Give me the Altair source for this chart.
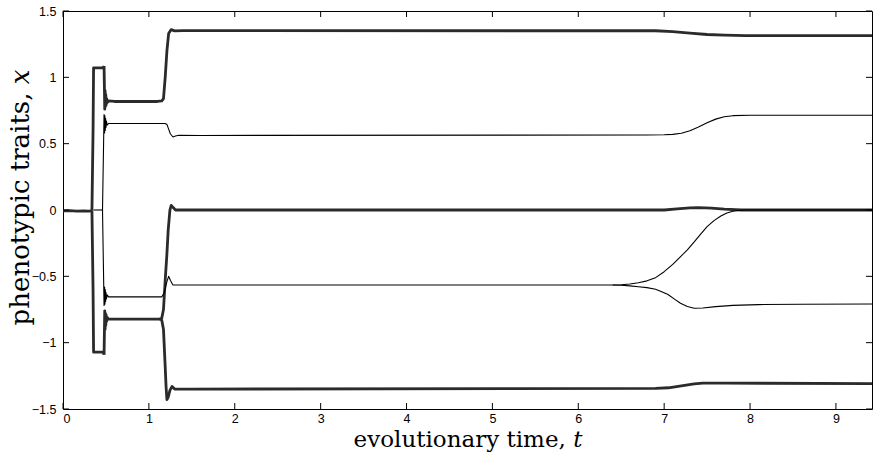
import altair as alt
import pandas as pd

# ---- data: (t, x) polylines for each branch ----
trunk_t = [0.0, 0.08, 0.16, 0.24, 0.30, 0.337]
trunk_x = [-0.006, -0.004, -0.008, -0.006, -0.008, -0.006]

upleft_t = [0.337, 0.350, 0.356, 0.47, 0.478]
upleft_x = [-0.006, 0.60, 1.072, 1.072, 1.085]

dnleft_t = [0.337, 0.350, 0.356, 0.47, 0.478]
dnleft_x = [-0.006, -0.60, -1.072, -1.072, -1.09]

mid0_t = [0.356, 0.46]
mid0_x = [0.0, 0.0]

# upper outer branch: 1.08 -> 0.82 -> 1.35 -> 1.315
uo_t = [0.478, 0.482, 0.486, 0.490, 0.494, 0.498, 0.502, 0.508, 0.515, 0.53, 0.60, 1.10, 1.15, 1.17,
        1.19, 1.21, 1.23, 1.26, 1.30, 1.40, 6.9, 7.1, 7.3, 7.5, 7.7, 7.95, 9.42]
uo_x = [1.085, 0.93, 0.76, 0.90, 0.78, 0.87, 0.79, 0.84, 0.81, 0.822, 0.818, 0.818, 0.822, 0.84,
        1.00, 1.20, 1.33, 1.36, 1.35, 1.352, 1.351, 1.345, 1.333, 1.323, 1.318, 1.315, 1.315]

# upper inner branch: 0.65 -> 0.56 -> 0.71
ui_t = [0.46, 0.470, 0.478, 0.484, 0.488, 0.492, 0.496, 0.500, 0.506, 0.514, 0.53, 0.60, 1.19, 1.21,
        1.23, 1.25, 1.28, 1.31, 1.35, 1.6, 6.8, 7.0, 7.1, 7.2, 7.3, 7.4, 7.5, 7.6, 7.7, 7.8, 8.0, 8.3, 9.42]
ui_x = [0.0, 0.40, 0.72, 0.58, 0.71, 0.60, 0.69, 0.62, 0.67, 0.64, 0.652, 0.652, 0.652, 0.645,
        0.61, 0.575, 0.55, 0.558, 0.564, 0.562, 0.565, 0.567, 0.570, 0.578, 0.598, 0.625, 0.657, 0.685,
        0.703, 0.711, 0.714, 0.714, 0.714]

# lower outer branch: -1.08 -> -0.82 (splits at t~1.13)
lo_t = [0.478, 0.482, 0.486, 0.490, 0.494, 0.498, 0.502, 0.508, 0.515, 0.53, 0.60, 1.13]
lo_x = [-1.09, -0.93, -0.76, -0.90, -0.78, -0.87, -0.79, -0.84, -0.81, -0.822, -0.822, -0.822]

# from -0.82 up to 0
lz_t = [1.13, 1.15, 1.17, 1.19, 1.21, 1.225, 1.245, 1.26, 1.28, 1.31, 1.5, 7.0, 7.15, 7.3, 7.4, 7.55, 7.7, 7.9, 9.42]
lz_x = [-0.822, -0.815, -0.75, -0.53, -0.33, -0.15, 0.0, 0.035, 0.02, 0.0, 0.0, 0.0, 0.008, 0.016, 0.018, 0.014, 0.006, 0.0, 0.0]

# from -0.82 down to -1.35
lb_t = [1.13, 1.15, 1.17, 1.19, 1.20, 1.21, 1.225, 1.245, 1.27, 1.30, 1.5, 6.9, 7.05, 7.2, 7.35, 7.45, 7.7, 9.42]
lb_x = [-0.822, -0.83, -0.90, -1.18, -1.33, -1.43, -1.41, -1.36, -1.33, -1.35, -1.35, -1.345, -1.34, -1.325, -1.31, -1.305, -1.305, -1.308]

# lower inner branch: -0.65 -> -0.56 -> 0
li_t = [0.46, 0.470, 0.478, 0.484, 0.488, 0.492, 0.496, 0.500, 0.506, 0.514, 0.53, 0.60, 1.15, 1.18,
        1.21, 1.23, 1.25, 1.28, 1.35, 6.4, 6.5, 6.6, 6.7, 6.8, 6.9, 7.0, 7.1, 7.2, 7.27, 7.35, 7.42,
        7.5, 7.58, 7.66, 7.73, 7.8, 7.88, 8.0, 9.42]
li_x = [0.0, -0.40, -0.72, -0.58, -0.71, -0.60, -0.69, -0.62, -0.67, -0.64, -0.655, -0.655, -0.655, -0.62,
        -0.54, -0.50, -0.53, -0.565, -0.565, -0.565, -0.563, -0.558, -0.548, -0.534, -0.51, -0.465, -0.41,
        -0.345, -0.30, -0.24, -0.185, -0.125, -0.08, -0.045, -0.022, -0.009, -0.002, 0.0, 0.0]

# lower inner second branch: -0.56 -> -0.71
lm_t = [6.4, 6.5, 6.6, 6.7, 6.8, 6.9, 6.95, 7.04, 7.12, 7.19, 7.27, 7.35, 7.45, 7.6, 7.8, 8.1, 8.6, 9.42]
lm_x = [-0.565, -0.567, -0.572, -0.578, -0.585, -0.598, -0.61, -0.635, -0.672, -0.703, -0.727, -0.741,
        -0.739, -0.728, -0.719, -0.713, -0.710, -0.709]

branches = [
    ("trunk", trunk_t, trunk_x, "thick"),
    ("upleft", upleft_t, upleft_x, "thick"),
    ("dnleft", dnleft_t, dnleft_x, "thick"),
    ("mid0", mid0_t, mid0_x, "thin"),
    ("uo", uo_t, uo_x, "thick"),
    ("ui", ui_t, ui_x, "thin"),
    ("lo", lo_t, lo_x, "thick"),
    ("lz", lz_t, lz_x, "thick"),
    ("lb", lb_t, lb_x, "thick"),
    ("li", li_t, li_x, "thin"),
    ("lm", lm_t, lm_x, "thin"),
]

x_ticks = [0, 1, 2, 3, 4, 5, 6, 7, 8, 9]
y_ticks = [-1.5, -1, -0.5, 0, 0.5, 1, 1.5]

styles = {"thick": (2.8, "#2b2b2b"), "thin": (1.1, "#000000")}

rows = []
for name, ts, xs, kind in branches:
    w, c = styles[kind]
    for i, (t, x) in enumerate(zip(ts, xs)):
        rows.append({"branch": name, "i": i, "t": t, "x": x, "w": w, "c": c})
df = pd.DataFrame(rows)

W, H = 809, 398
xs = alt.Scale(domain=[0, 9.42], nice=False, zero=False)
ys = alt.Scale(domain=[-1.5, 1.5], nice=False, zero=False)

lines = alt.Chart(df).mark_line(interpolate="linear", strokeJoin="round").encode(
    x=alt.X("t:Q", scale=xs, axis=alt.Axis(
        values=x_ticks, format="~g", title="evolutionary time, 𝑡", tickSize=0, domain=False, grid=False,
        labelFont="Liberation Sans", labelFontSize=12.5, labelColor="black", labelPadding=3,
        titleFont="DejaVu Serif", titleFontSize=23, titleFontWeight="normal", titleColor="black",
        titleBaseline="alphabetic", titleY=37)),
    y=alt.Y("x:Q", scale=ys, axis=alt.Axis(
        values=y_ticks, format="~g", title="phenotypic traits, 𝑥", tickSize=0, domain=False, grid=False,
        labelFont="Liberation Sans", labelFontSize=12.5, labelColor="black", labelPadding=7,
        titleFont="DejaVu Serif", titleFontSize=26, titleFontWeight="normal", titleColor="black",
        titleBaseline="alphabetic", titleX=-35, titleY=186)),
    detail="branch:N",
    order="i:Q",
    strokeWidth=alt.StrokeWidth("w:Q", scale=None),
    color=alt.Color("c:N", scale=None),
)

xt = pd.DataFrame({"v": x_ticks})
yt = pd.DataFrame({"v": y_ticks})
tick_b = alt.Chart(xt).mark_rule(color="black", strokeWidth=1).encode(
    x=alt.X("v:Q", scale=xs), y=alt.value(H), y2=alt.value(H - 6))
tick_t = alt.Chart(xt).mark_rule(color="black", strokeWidth=1).encode(
    x=alt.X("v:Q", scale=xs), y=alt.value(0), y2=alt.value(6))
tick_l = alt.Chart(yt).mark_rule(color="black", strokeWidth=1).encode(
    y=alt.Y("v:Q", scale=ys), x=alt.value(0), x2=alt.value(6))
tick_r = alt.Chart(yt).mark_rule(color="black", strokeWidth=1).encode(
    y=alt.Y("v:Q", scale=ys), x=alt.value(W), x2=alt.value(W - 6))

chart = alt.layer(lines, tick_b, tick_t, tick_l, tick_r).properties(
    width=W, height=H,
    autosize=alt.AutoSizeParams(type="none"),
    padding={"left": 63, "top": 11, "right": 1, "bottom": 47},
    background="white",
).configure_view(stroke="black", strokeWidth=1)

chart.save("out.html", embed_options={"renderer": "svg", "actions": False})
